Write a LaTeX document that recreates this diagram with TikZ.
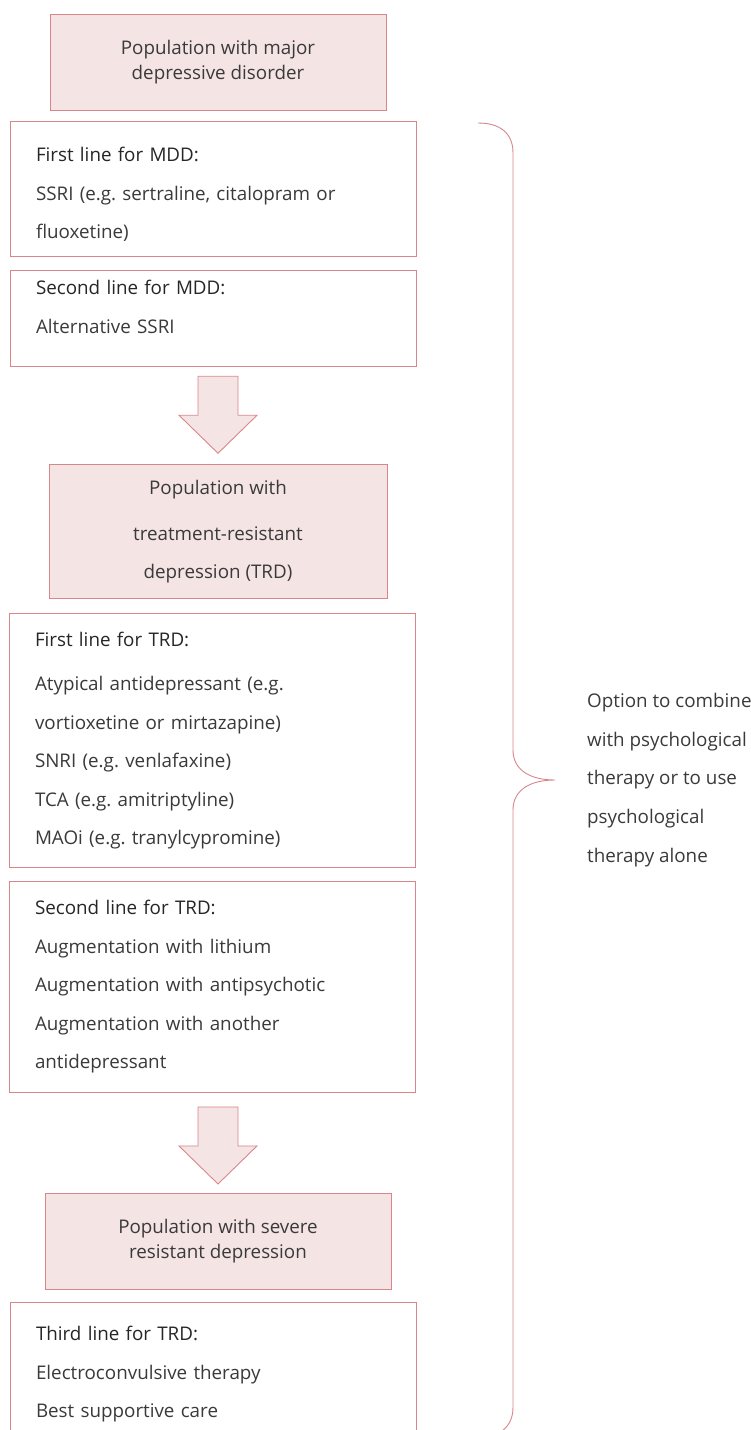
\documentclass[tikz,border=0pt]{standalone}
\usepackage{fontspec}
\setmainfont{Open Sans}
\usetikzlibrary{positioning}
\definecolor{boxline}{HTML}{D9868B}
\definecolor{boxfill}{HTML}{F5E4E4}
\definecolor{txtgray}{HTML}{3A3A3A}
\tikzset{
  popbox/.style = {rectangle, draw=boxline, fill=boxfill, line width=0.9pt, align=center, text=txtgray, font=\fontsize{18.8}{25}\selectfont},
  linebox/.style = {rectangle, draw=boxline, fill=white, line width=0.9pt, align=left, text width=354pt, inner xsep=26pt, text=txtgray, font=\fontsize{18.8}{38.5}\selectfont},
  arrowline/.style = {draw=boxline, fill=boxfill, line width=0.9pt, line join=miter},
  bracepath/.style = {draw=boxline, line width=0.9pt},
  downarrow/.pic = {\draw[arrowline] (-20,0) -- (20,0) -- (20,-39) -- (39,-39) -- (0,-77) -- (-39,-39) -- (-20,-39) -- cycle;}
}
\newcommand{\hd}[1]{{\color{black!85}#1}}

\begin{document}
\frenchspacing
\begin{tikzpicture}[x=1pt, y=1pt, node distance=11pt]
\useasboundingbox (0,0) rectangle (751,-1430);

\node (pop1) [popbox, minimum width=336pt, minimum height=96pt] at (218,-62) {Population with major\\depressive disorder};
\node (mdd1) [linebox, minimum height=135pt, text depth=70pt, below=11pt of pop1, xshift=-5pt] {\hd{First line for MDD:}\\SSRI (e.g. sertraline, citalopram or\\fluoxetine)};
\node (mdd2) [linebox, minimum height=96pt, text depth=62pt, below=13pt of mdd1] {\hd{Second line for MDD:}\\Alternative SSRI};

\coordinate (arr1) at ([yshift=-9pt]mdd2.south -| pop1.south);
\pic at (arr1) {downarrow};

\node (trd) [popbox, font=\fontsize{18.8}{38}\selectfont, minimum width=338pt, minimum height=134pt, below=88pt of arr1] {Population with\\[8pt]treatment-resistant\\depression (TRD)};
\node (trd1) [linebox, minimum height=254pt, below=14pt of trd, xshift=-6pt] {\hd{First line for TRD:}\\[6pt]Atypical antidepressant (e.g.\\vortioxetine or mirtazapine)\\SNRI (e.g. venlafaxine)\\TCA (e.g. amitriptyline)\\MAOi (e.g. tranylcypromine)};
\node (trd2) [linebox, minimum height=211pt, below=13pt of trd1] {\hd{Second line for TRD:}\\Augmentation with lithium\\Augmentation with antipsychotic\\Augmentation with another\\antidepressant};

\coordinate (arr2) at ([yshift=-14pt]trd2.south -| pop1.south);
\pic at (arr2) {downarrow};

\node (severe) [popbox, minimum width=346pt, minimum height=96pt, below=86pt of arr2] {Population with severe\\resistant depression};
\node (trd3) [linebox, minimum height=132pt, text depth=70pt, below=12pt of severe, xshift=-5pt] {\hd{Third line for TRD:}\\Electroconvulsive therapy\\Best supportive care};

% brace on the right
\coordinate (btop) at (478,-123);
\coordinate (btip) at (555,-780);
\coordinate (bbot) at (478,-1437);
\draw [bracepath] (btop) .. controls (500,-123) and (513,-133) .. (513,-153) -- (513,-750)
  .. controls (513,-770) and (530,-780) .. (btip)
  .. controls (530,-780) and (513,-790) .. (513,-810) -- (513,-1407)
  .. controls (513,-1427) and (500,-1437) .. (bbot);

\node (note) [anchor=west, align=left, inner sep=0pt, text=txtgray, font=\fontsize{18.8}{38.75}\selectfont] at ([xshift=32pt]btip) {Option to combine\\with psychological\\therapy or to use\\psychological\\therapy alone};

\end{tikzpicture}
\end{document}
